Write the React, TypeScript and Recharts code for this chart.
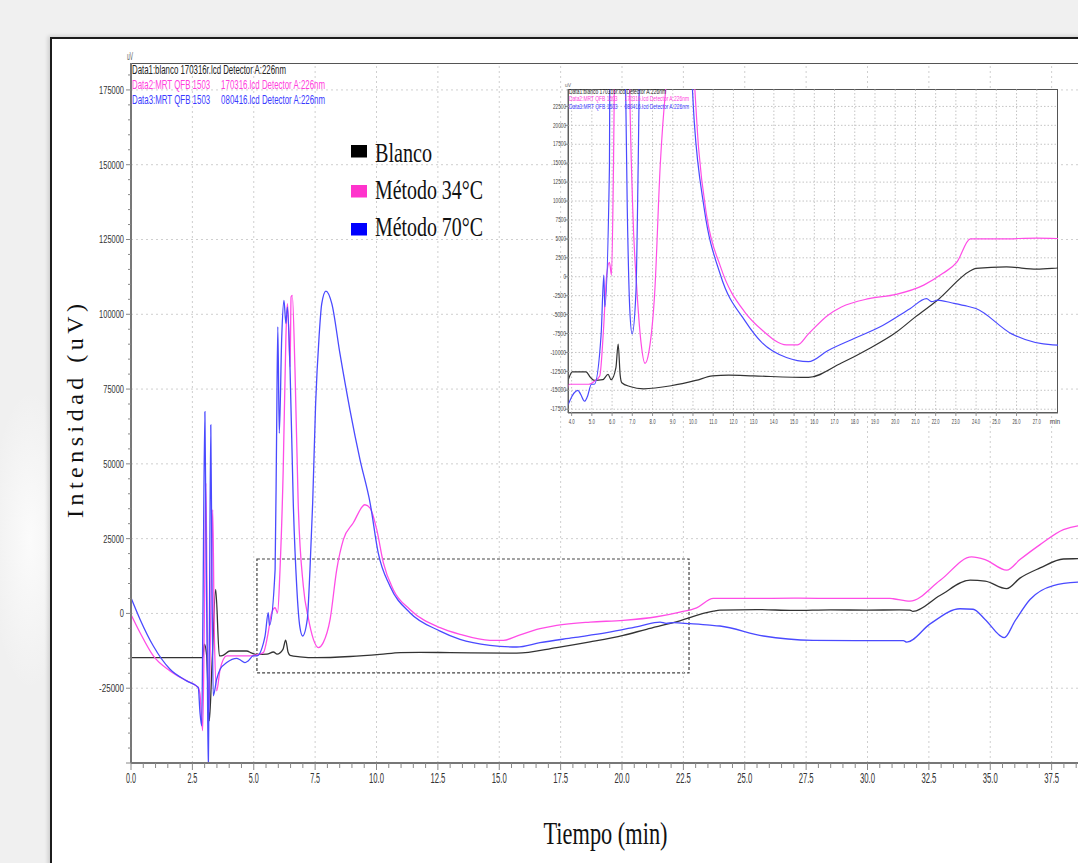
import React from 'react';
import {
  ComposedChart,
  LineChart,
  Line,
  XAxis,
  YAxis,
  ReferenceLine,
  ReferenceArea,
  Legend,
} from 'recharts';

type Pt = [number, number];

// Chromatograms, [retention time (min), signal (uV)]
const blancoTrace: Pt[] = [
  [0, -14800], [2.92, -14800], [2.99, -10300], [3.08, -14000], [3.19, -35900], [3.3, -17000],
  [3.45, 8000], [3.6, -14200], [3.75, -14000], [4.03, -12560], [4.71, -12560], [4.93, -13300],
  [5.12, -13700], [5.54, -13600], [5.8, -12900], [5.95, -13600], [6.19, -12000], [6.3, -8900],
  [6.4, -13000], [6.48, -14000], [6.88, -14500], [7.56, -14800], [8.92, -14400], [10.14, -13700],
  [10.97, -13100], [11.77, -13000], [13.0, -13100], [15.71, -13300], [17.34, -11400], [18.7, -9500],
  [20.05, -7330], [21.0, -5300], [22.09, -3100], [23.72, 780], [23.99, 1100], [25.5, 1300],
  [27.0, 1000], [28.5, 1200], [30.0, 1100], [31.3, 1200], [31.73, 1100], [31.85, 700],
  [32.95, 6000], [34.18, 11100], [34.79, 10800], [35.67, 8300], [36.21, 11800], [37.03, 15200],
  [37.98, 18200], [38.57, 18300], [40, 18500],
];

const metodo34Trace: Pt[] = [
  [0, -330], [0.37, -6440], [0.91, -14200], [1.59, -19220], [2.27, -22560], [2.74, -24770],
  [2.81, -27000], [2.92, -39200], [2.99, 0], [3.05, 43560], [3.11, -5000], [3.17, -33100],
  [3.25, 0], [3.33, 34670], [3.39, -5000], [3.49, -25900], [3.63, -18670], [3.9, -14200],
  [4.85, -14200], [5.13, -13800], [5.39, -13100], [5.58, -6800], [5.73, 230], [5.87, 1900],
  [5.97, 200], [6.07, 14670], [6.2, 48000], [6.31, 92430], [6.37, 103560], [6.42, 95770],
  [6.48, 82430], [6.52, 105770], [6.57, 106330], [6.68, 81330], [6.81, 36900], [7.02, 9100],
  [7.22, -1440], [7.43, -8670], [7.63, -11440], [7.83, -9770], [8.11, -2000], [8.38, 14670],
  [8.65, 24670], [9.05, 30230], [9.53, 36330], [9.74, 35230], [10.01, 28000], [10.28, 16900],
  [10.68, 8000], [11.36, 1330], [12.59, -4770], [13.4, -7000], [14.62, -9000], [15.17, -9000],
  [15.71, -7550], [16.66, -5110], [17.34, -4000], [18.7, -2890], [20.05, -2330], [21.41, -1110],
  [22.36, 450], [23.04, 1890], [23.72, 5000], [25.21, 5000], [27.0, 5100], [29.0, 5000],
  [30.91, 5000], [31.05, 4900], [31.73, 4100], [32.95, 11000], [34.24, 18900], [34.79, 18000],
  [35.67, 14450], [36.21, 18000], [37.03, 23000], [37.98, 28000], [38.57, 29300], [40, 30000],
];

const metodo70Trace: Pt[] = [
  [0, 5230], [0.37, -2000], [0.91, -10900], [1.59, -18670], [2.27, -22560], [2.74, -24770],
  [2.81, -33100], [2.88, -37560], [2.93, 0], [3.01, 67430], [3.05, 30000], [3.11, -20000],
  [3.15, -52000], [3.19, -10000], [3.25, 63000], [3.3, 10000], [3.35, -27560], [3.49, -22000],
  [3.63, -18670], [3.9, -16440], [4.31, -15000], [4.44, -15500], [4.64, -16440], [4.77, -15900],
  [4.98, -14200], [5.12, -14200], [5.46, -7550], [5.59, 230], [5.64, -4000], [5.87, 14670],
  [5.93, 59100], [5.98, 95770], [6.04, 60230], [6.14, 92430], [6.23, 104660], [6.31, 96900],
  [6.37, 102400], [6.48, 81300], [6.61, 36900], [6.75, 9100], [6.88, -4600], [6.99, -7550],
  [7.18, -2000], [7.29, 14670], [7.4, 36900], [7.52, 70000], [7.66, 92400], [7.77, 103560],
  [7.94, 107770], [8.18, 103560], [8.51, 86900], [8.92, 68000], [9.33, 51330], [9.74, 36900],
  [10.07, 20230], [10.55, 9100], [11.36, 230], [12.59, -5890], [13.4, -8670], [14.62, -10670],
  [15.71, -11220], [16.66, -9770], [18.02, -8100], [19.38, -6440], [20.73, -4220], [21.55, -2890],
  [21.8, -3300], [22.09, -3100], [22.77, -3440], [23.58, -3900], [23.99, -4200], [25.76, -7550],
  [27.79, -9000], [29.5, -9100], [31.46, -9100], [31.6, -9600], [32.55, -3500], [33.77, 1560],
  [34.3, 1400], [34.79, -2000], [35.57, -8100], [36.01, -2500], [36.62, 4670], [37.57, 9330],
  [38.57, 10430], [40, 10800],
];

const seriesNames = ['Blanco', 'Método 34°C', 'Método 70°C'];
const seriesLineColors = ['#333333', '#ff4de6', '#4a4aff'];
const seriesSwatchColors = ['#000000', '#ff33cc', '#0000ff'];
const seriesTextColors = ['#222222', '#ff40dd', '#3b3bff'];

// Detector file captions
const fileCaptions = [
  'Data1:blanco 170316r.lcd Detector A:226nm',
  'Data2:MRT QFB 1503     170316.lcd Detector A:226nm',
  'Data3:MRT QFB 1503     080416.lcd Detector A:226nm',
];

// Main axes
const timeLabels = [0, 2.5, 5, 7.5, 10, 12.5, 15, 17.5, 20, 22.5, 25, 27.5, 30, 32.5, 35, 37.5];
const signalLabels = [-25000, 0, 25000, 50000, 75000, 100000, 125000, 150000, 175000];
const timeTicks = Array.from({ length: 81 }, (_, i) => i * 0.5);
const signalTicks = Array.from({ length: 47 }, (_, i) => -50000 + i * 5000);

// Zoomed view axes
const zoomTimeLabels = [4, 5, 6, 7, 8, 9, 10, 11, 12, 13, 14, 15, 16, 17, 18, 19, 20, 21, 22, 23, 24, 25, 26, 27];
const zoomSignalLabels = [-17500, -15000, -12500, -10000, -7500, -5000, -2500, 0, 2500, 5000, 7500, 10000, 12500, 15000, 17500, 20000, 22500];

// Dashed box marking the zoomed region
const zoomBox = { t1: 5.13, t2: 22.73, s1: -19900, s2: 18200 };

const toRows = (pts: Pt[]) => pts.map(([t, v]) => ({ t, v }));
const traces = [toRows(blancoTrace), toRows(metodo34Trace), toRows(metodo70Trace)];

const narrow = "'Liberation Sans Narrow', 'Liberation Sans', Arial, sans-serif";
const serif = "'Liberation Serif', 'Times New Roman', serif";

const TimeTick = (props: any) => {
  const { x, y, payload } = props;
  const v: number = payload.value;
  const major = v % 2.5 === 0;
  const label = v.toFixed(1);
  return (
    <g>
      <line x1={x} x2={x} y1={y} y2={y + (major ? 7 : 5)} stroke="#888" strokeWidth={1} />
      {timeLabels.includes(v) && (
        <text x={x} y={y + 20} textAnchor="middle" fontSize={15} fontFamily={narrow} fill="#333"
          textLength={label.length > 3 ? 15 : 10} lengthAdjust="spacingAndGlyphs">
          {label}
        </text>
      )}
    </g>
  );
};

const SignalTick = (props: any) => {
  const { x, y, payload } = props;
  const v: number = payload.value;
  const major = v % 25000 === 0;
  const label = String(v);
  return (
    <g>
      <line x1={x - (major ? 5 : 3)} x2={x} y1={y} y2={y} stroke="#888" strokeWidth={1} />
      {signalLabels.includes(v) && (
        <text x={x - 7} y={y + 4} textAnchor="end" fontSize={11} fontFamily={narrow} fill="#333"
          textLength={label.length * 4.15} lengthAdjust="spacingAndGlyphs">
          {label}
        </text>
      )}
    </g>
  );
};

const ZoomTimeTick = (props: any) => {
  const { x, y, payload } = props;
  const label = Number(payload.value).toFixed(1);
  return (
    <g>
      <line x1={x} x2={x} y1={y} y2={y + 3} stroke="#777" strokeWidth={0.8} />
      <text x={x} y={y + 11} textAnchor="middle" fontSize={7} fontFamily={narrow} fill="#444"
        textLength={label.length > 3 ? 8 : 6} lengthAdjust="spacingAndGlyphs">
        {label}
      </text>
    </g>
  );
};

const ZoomSignalTick = (props: any) => {
  const { x, y, payload } = props;
  const label = String(payload.value);
  return (
    <g>
      <line x1={x - 3} x2={x} y1={y} y2={y} stroke="#777" strokeWidth={0.8} />
      <text x={x - 2} y={y + 2.2} textAnchor="end" fontSize={6.5} fontFamily={narrow} fill="#444"
        textLength={label.length * 2.6} lengthAdjust="spacingAndGlyphs">
        {label}
      </text>
    </g>
  );
};

// Legend rows: swatch top, text baseline, text width
const legendRows = [
  { top: 5, base: 21.5, width: 57 },
  { top: 45, base: 58.5, width: 108 },
  { top: 83, base: 95.5, width: 108 },
];

const SeriesLegend = () => (
  <svg width={150} height={104} style={{ display: 'block', overflow: 'visible' }}>
    {seriesNames.map((name, i) => (
      <g key={name}>
        <rect x={0} y={legendRows[i].top} width={16} height={12.5} fill={seriesSwatchColors[i]} />
        <text x={24} y={legendRows[i].base} fontSize={28} fontFamily={serif} fill="#111"
          textLength={legendRows[i].width} lengthAdjust="spacingAndGlyphs">
          {name}
        </text>
      </g>
    ))}
  </svg>
);

export default function App() {
  return (
    <div style={{ position: 'fixed', left: 0, top: 0, width: 1078, height: 863, overflow: 'hidden', background: '#f0f0f0' }}>
      <div style={{ position: 'absolute', left: 0, top: 380, width: 60, height: 320,
        background: 'radial-gradient(ellipse 40px 150px at 30px 160px, #fbfbfb, rgba(240,240,240,0))' }} />
      <div style={{ position: 'absolute', left: 50, top: 37, width: 1200, height: 1000, background: '#ffffff',
        borderTop: '2px solid #1c1c1c', borderLeft: '2px solid #1c1c1c', boxShadow: '-2px -1px 4px rgba(0,0,0,0.15)' }} />
      <div style={{ position: 'absolute', left: 131, top: 63, width: 1000, height: 0, borderTop: '1px solid #555' }} />

      <div style={{ position: 'absolute', left: 0, top: 0 }}>
        <ComposedChart width={1140} height={863} margin={{ top: 63, right: 27, bottom: 70, left: 71 }}>
          <XAxis type="number" dataKey="t" domain={[0, 40]} ticks={timeTicks} interval={0}
            tickSize={0} tickMargin={0} tickLine={false} tick={(p: any) => <TimeTick {...p} />}
            axisLine={{ stroke: '#777', strokeWidth: 2 }} height={30} />
          <YAxis type="number" domain={[-50000, 184000]} allowDataOverflow ticks={signalTicks} interval={0}
            tickSize={0} tickMargin={0} tickLine={false} tick={(p: any) => <SignalTick {...p} />}
            axisLine={{ stroke: '#777', strokeWidth: 2 }} width={60} />
          {timeLabels.filter((t) => t > 0).map((t) => (
            <ReferenceLine key={`gx${t}`} x={t} stroke="#cfcfcf" strokeDasharray="2 3" />
          ))}
          {signalLabels.map((s) => (
            <ReferenceLine key={`gy${s}`} y={s} stroke="#cfcfcf" strokeDasharray="2 3" />
          ))}
          <ReferenceArea x1={zoomBox.t1} x2={zoomBox.t2} y1={zoomBox.s1} y2={zoomBox.s2}
            fill="none" fillOpacity={0} stroke="#444" strokeWidth={1.2} strokeDasharray="3 2" />
          {traces.map((rows, i) => (
            <Line key={seriesNames[i]} name={seriesNames[i]} data={rows} dataKey="v" type="monotone"
              stroke={seriesLineColors[i]} strokeWidth={1.3} dot={false} activeDot={false}
              isAnimationActive={false} />
          ))}
          <Legend layout="horizontal" verticalAlign="middle" align="center" content={() => <SeriesLegend />}
            wrapperStyle={{ left: 351, top: 140, width: 150, height: 104 }} />
        </ComposedChart>
      </div>

      <div style={{ position: 'absolute', left: 568, top: 89, width: 490, height: 324, background: '#fff',
        border: '1px solid #555', boxSizing: 'border-box' }} />
      <div style={{ position: 'absolute', left: 520, top: 60 }}>
        <LineChart width={560} height={390} margin={{ top: 29, right: 22, bottom: 17, left: 18 }}>
          <XAxis type="number" dataKey="t" domain={[3.82, 28.05]} allowDataOverflow ticks={zoomTimeLabels}
            interval={0} tickSize={0} tickMargin={0} tickLine={false} tick={(p: any) => <ZoomTimeTick {...p} />}
            axisLine={{ stroke: '#666', strokeWidth: 1 }} height={20} />
          <YAxis type="number" domain={[-18000, 24800]} allowDataOverflow ticks={zoomSignalLabels}
            interval={0} tickSize={0} tickMargin={0} tickLine={false} tick={(p: any) => <ZoomSignalTick {...p} />}
            axisLine={{ stroke: '#666', strokeWidth: 1 }} width={30} />
          {zoomTimeLabels.map((t) => (
            <ReferenceLine key={`zx${t}`} x={t} stroke="#c4c4c4" strokeDasharray="1.5 2" />
          ))}
          {zoomSignalLabels.map((s) => (
            <ReferenceLine key={`zy${s}`} y={s} stroke="#c4c4c4" strokeDasharray="1.5 2" />
          ))}
          {traces.map((rows, i) => (
            <Line key={seriesNames[i]} name={seriesNames[i]} data={rows} dataKey="v" type="monotone"
              stroke={seriesLineColors[i]} strokeWidth={1.2} dot={false} activeDot={false}
              isAnimationActive={false} />
          ))}
        </LineChart>
      </div>

      <svg width={1078} height={863} style={{ position: 'absolute', left: 0, top: 0, pointerEvents: 'none' }}>
        <text x={127} y={59.5} fontSize={10} fontFamily={narrow} fill="#555" textLength={6} lengthAdjust="spacingAndGlyphs">uV</text>
        {fileCaptions.map((caption, i) => (
          <text key={`m${i}`} x={132} y={74 + i * 15} fontSize={13} fontFamily={narrow} fill={seriesTextColors[i]}
            style={{ whiteSpace: 'pre' }} textLength={i === 0 ? 154 : 193} lengthAdjust="spacingAndGlyphs">
            {caption}
          </text>
        ))}
        <text transform="translate(83,411) rotate(-90)" textAnchor="middle" fontSize={24} fontFamily={serif}
          fill="#111" textLength={214} lengthAdjust="spacing">Intensidad (uV)</text>
        <text x={605.5} y={844} textAnchor="middle" fontSize={32} fontFamily={serif} fill="#111"
          textLength={124} lengthAdjust="spacingAndGlyphs">Tiempo (min)</text>

        <text x={565} y={87} fontSize={5} fontFamily={narrow} fill="#666">uV</text>
        {fileCaptions.map((caption, i) => (
          <text key={`z${i}`} x={569} y={93.5 + i * 7.5} fontSize={6.5} fontFamily={narrow} fill={seriesTextColors[i]}
            style={{ whiteSpace: 'pre' }} textLength={i === 0 ? 97 : 120} lengthAdjust="spacingAndGlyphs">
            {caption}
          </text>
        ))}
        <text x={1055} y={424} textAnchor="middle" fontSize={6.5} fontFamily={narrow} fill="#444">min</text>
      </svg>
    </div>
  );
}
